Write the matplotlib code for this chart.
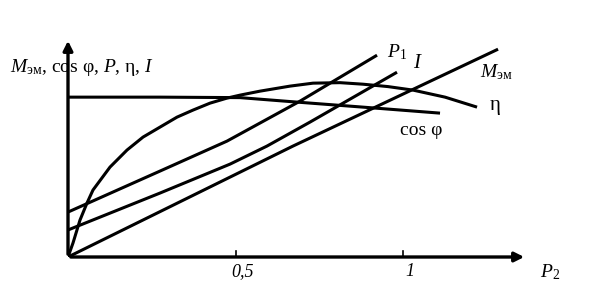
import matplotlib
matplotlib.use("Agg")
import matplotlib.pyplot as plt

plt.rcParams['font.family'] = ['Liberation Serif', 'DejaVu Serif']
plt.rcParams['mathtext.fontset'] = 'custom'
plt.rcParams['mathtext.rm'] = 'Liberation Serif'
plt.rcParams['mathtext.it'] = 'Liberation Serif:italic'

# curves (P2 in rel. units, y in arbitrary units)
cos_x = [0, 0.2746, 0.5134, 0.6836, 0.8806, 1.1104]
cos_y = [1.0, 1.0, 0.997, 0.969, 0.9375, 0.90]

eta_x = [0, 0.0149, 0.0358, 0.0567, 0.0746, 0.1254, 0.1761, 0.2239, 0.2746, 0.3254,
         0.3731, 0.4239, 0.4746, 0.5134, 0.5731, 0.6627, 0.7313, 0.8119, 0.8806,
         0.9552, 1.0299, 1.1254, 1.2209]
eta_y = [0, 0.0875, 0.231, 0.3375, 0.419, 0.5625, 0.669, 0.75, 0.8125, 0.875,
         0.919, 0.9625, 0.994, 1.0125, 1.0375, 1.069, 1.0875, 1.0906, 1.081,
         1.066, 1.044, 1.0, 0.9375]

p1_x = [0, 0.2746, 0.4746, 0.6925, 0.9224]
p1_y = [0.281, 0.5375, 0.725, 0.975, 1.2625]

i_x = [0, 0.2746, 0.4836, 0.594, 0.7224, 0.982]
i_y = [0.169, 0.40, 0.581, 0.694, 0.844, 1.156]

m_x = [0, 0.6716, 1.2836]
m_y = [0, 0.694, 1.30]

xticks = [0.5, 1]
xtick_labels = ['0,5', '1']

fig = plt.figure(figsize=(5.94, 3.01), dpi=100)
ax = fig.add_axes([68/594, 44/301, 459/594, 219/301])
ax.set_xlim(0, 1.37)
ax.set_ylim(0, 1.37)
ax.axis('off')

lw = 2.2
for xs, ys in [(cos_x, cos_y), (eta_x, eta_y), (p1_x, p1_y), (i_x, i_y), (m_x, m_y)]:
    ax.plot(xs, ys, c='black', lw=lw, solid_capstyle='butt', solid_joinstyle='round')

# axes with arrows
ax.annotate('', xy=(1.37, 0), xytext=(0, 0),
            arrowprops=dict(arrowstyle='-|>', lw=2.4, color='black', mutation_scale=14))
ax.annotate('', xy=(0, 1.37), xytext=(0, 0),
            arrowprops=dict(arrowstyle='-|>', lw=2.4, color='black', mutation_scale=14))

for t, lab in zip(xticks, xtick_labels):
    ax.plot([t, t], [0, 0.035], c='black', lw=1.2)
    ax.text(t + 0.02, -0.04, lab, ha='center', va='top', fontsize=13, style='italic')

ax.text(1.44, -0.035, r'$P_2$', ha='center', va='top', fontsize=14)

fig.text(10/594, 1 - 68/301, r'$M_{\mathrm{эм}}$, cos φ, $P$, η, $I$',
         ha='left', va='center', fontsize=14)

ax.text(0.952, 1.25, r'$P_1$', ha='left', va='baseline', fontsize=14)
ax.text(1.03, 1.18, r'$I$', ha='left', va='baseline', fontsize=15)
ax.text(1.23, 1.125, r'$M_{\mathrm{эм}}$', ha='left', va='baseline', fontsize=14)
ax.text(1.26, 0.95, 'η', ha='left', va='center', fontsize=15)
ax.text(0.99, 0.79, 'cos φ', ha='left', va='center', fontsize=14)

fig.savefig('out.png', dpi=100)
